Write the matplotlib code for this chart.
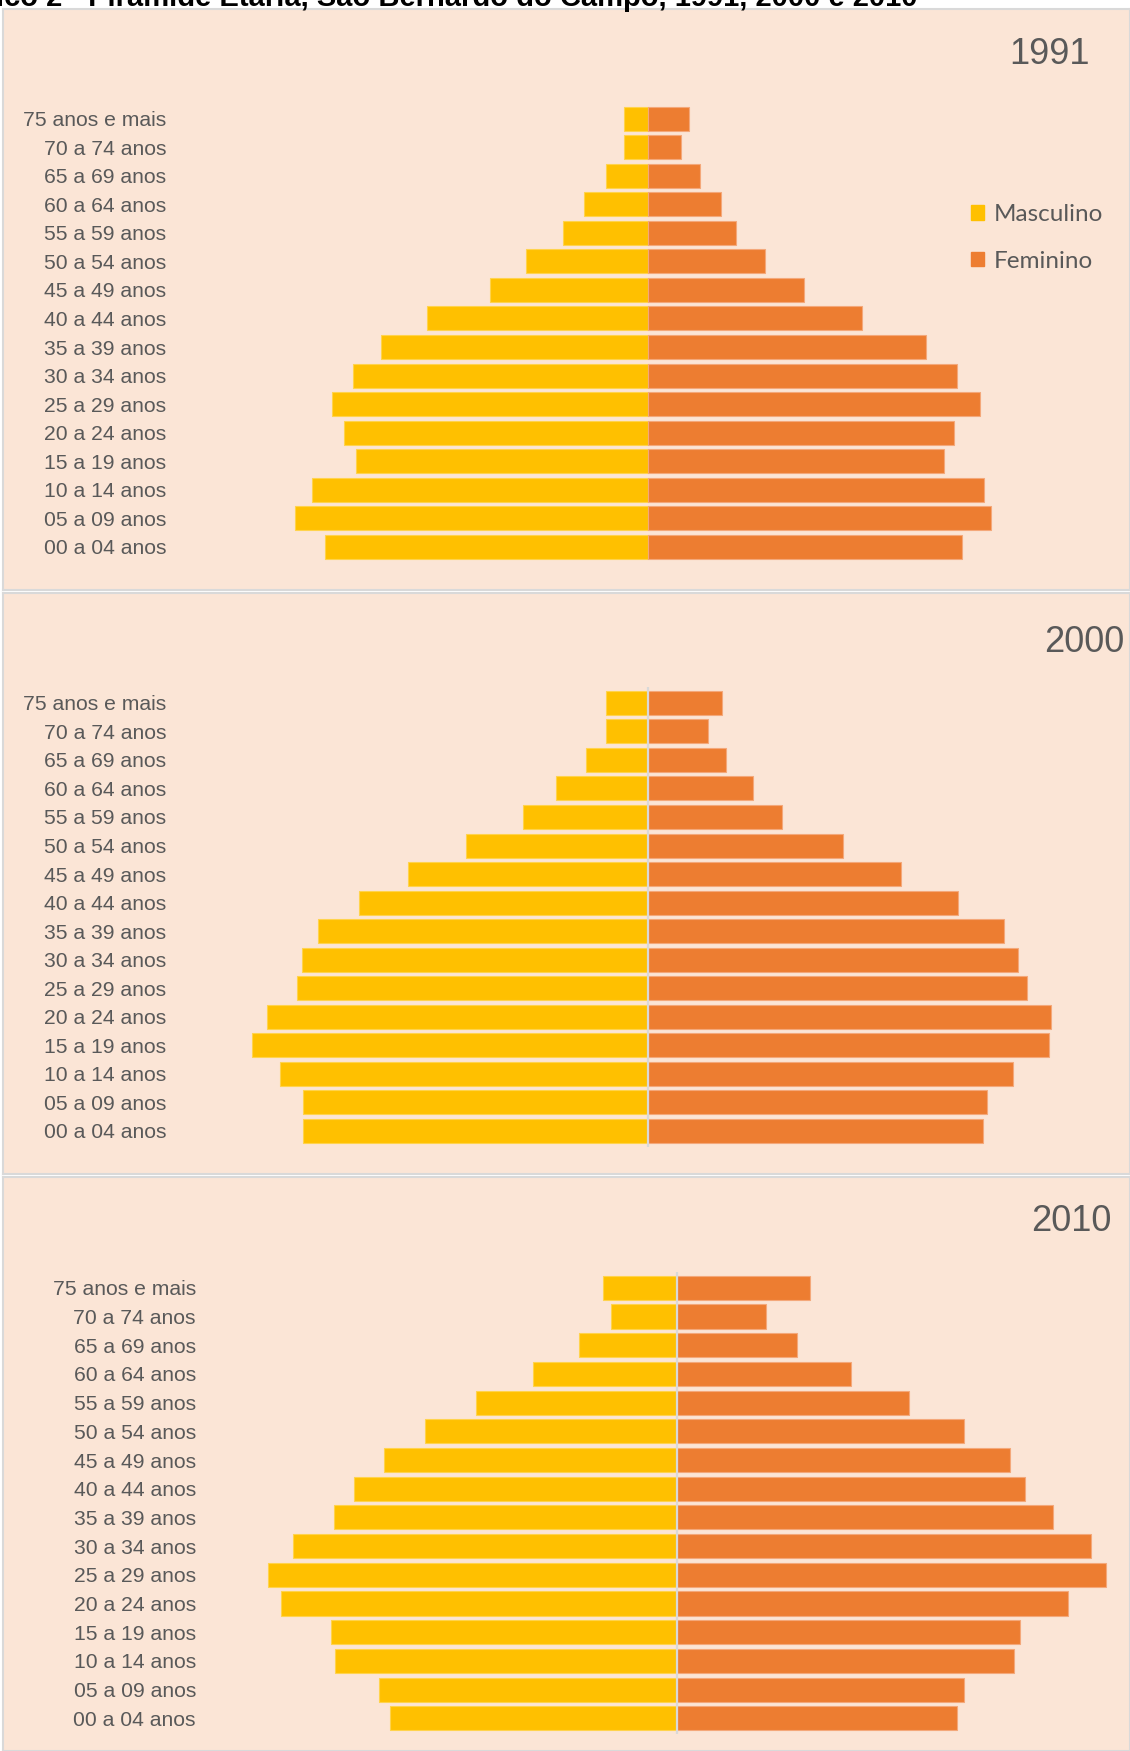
# Pirâmide etária - São Bernardo do Campo, 1991, 2000 e 2010

import matplotlib.pyplot as plt
from matplotlib.patches import Patch

faixas = ['00 a 04 anos', '05 a 09 anos', '10 a 14 anos', '15 a 19 anos',
          '20 a 24 anos', '25 a 29 anos', '30 a 34 anos', '35 a 39 anos',
          '40 a 44 anos', '45 a 49 anos', '50 a 54 anos', '55 a 59 anos',
          '60 a 64 anos', '65 a 69 anos', '70 a 74 anos', '75 anos e mais']

# valores (escala relativa de cada pirâmide)
masc_1991 = [323, 353, 336, 292, 304, 316, 295, 267, 221, 158, 122, 85, 64, 42, 24, 24]
fem_1991 = [314, 343, 336, 296, 306, 332, 309, 278, 214, 156, 117, 88, 73, 52, 33, 41]
masc_2000 = [345, 345, 368, 396, 381, 351, 346, 330, 289, 240, 182, 125, 92, 62, 42, 42]
fem_2000 = [335, 339, 365, 401, 403, 379, 370, 356, 310, 253, 195, 134, 105, 78, 60, 74]
masc_2010 = [287, 298, 342, 346, 396, 409, 384, 343, 323, 293, 252, 201, 144, 98, 66, 74]
fem_2010 = [280, 287, 337, 343, 391, 429, 414, 376, 348, 333, 287, 232, 174, 120, 89, 133]
anos = ['1991', '2000', '2010']

W, H = 1130, 1751
cinza = '#595959'
amarelo = '#FFC000'
laranja = '#ED7D31'
fundo = '#FBE5D6'

fig = plt.figure(figsize=(W / 100, H / 100), dpi=100)
fig.patch.set_facecolor('white')

# título cortado no topo, como no original
fig.text(918 / W, 1 - 6 / H,
         'Gráfico 2 - Pirâmide Etária, São Bernardo do Campo, 1991, 2000 e 2010',
         ha='right', va='baseline', fontsize=21, fontweight='bold',
         family='Liberation Sans', color='black')

# (topo, base, centro x, y do ano 00-04, y do 75+, x dos rótulos, x/y do ano)
paineis = [
    (9, 590, 648, 546.8, 118.7, 166, 1050, 54),
    (593, 1174, 648, 1131, 702.8, 166, 1084, 643),
    (1177, 1751, 676.7, 1718.3, 1287.8, 196, 1071, 1221),
]
dados = [(masc_1991, fem_1991), (masc_2000, fem_2000), (masc_2010, fem_2010)]

y = list(range(len(faixas)))

for k, (topo, base, cx, y0, y15, lx, ax_x, ax_y) in enumerate(paineis):
    masc, fem = dados[k]
    ax = fig.add_axes([3 / W, 1 - base / H, (W - 3) / W, (base - topo) / H])
    ax.set_facecolor(fundo)
    esp = (y0 - y15) / 15
    ax.set_xlim(3 - cx, W - cx)
    ax.set_ylim((y0 - base) / esp, 15 + (y15 - topo) / esp)

    ax.barh(y, [-v for v in masc], height=0.84, color=amarelo,
            edgecolor='#FFD34D', linewidth=0.8, label='Masculino')
    ax.barh(y, fem, height=0.84, color=laranja,
            edgecolor='#F4A87A', linewidth=0.8, label='Feminino')
    if k > 0:
        ax.vlines(0, -0.55, 15.55, color='#D9D9D9', linewidth=1.6, zorder=3)

    for i, nome in enumerate(faixas):
        ax.text((lx - 3) / (W - 3), i, nome, transform=ax.get_yaxis_transform(),
                ha='right', va='center_baseline', fontsize=15.2, color=cinza,
                family='Liberation Sans')

    fig.text(ax_x / W, 1 - ax_y / H, anos[k], ha='center', va='center',
             fontsize=26, color=cinza, family='Liberation Sans')

    ax.set_xticks([])
    ax.set_yticks([])
    for s in ax.spines.values():
        s.set_color('#D9D9D9')
        s.set_linewidth(1.5)

    if k == 0:
        ax.legend(handles=[Patch(color=amarelo, label='Masculino'),
                           Patch(color=laranja, label='Feminino')],
                  loc='upper left', bbox_to_anchor=(971 / W, 1 - 204 / H),
                  bbox_transform=fig.transFigure, frameon=False, borderpad=0,
                  borderaxespad=0, handlelength=0.55, handleheight=0.55,
                  handletextpad=0.4, labelspacing=1.05,
                  prop={'family': 'Lato', 'size': 17.5}, labelcolor=cinza)

fig.savefig('out.png', dpi=100, facecolor='white')
